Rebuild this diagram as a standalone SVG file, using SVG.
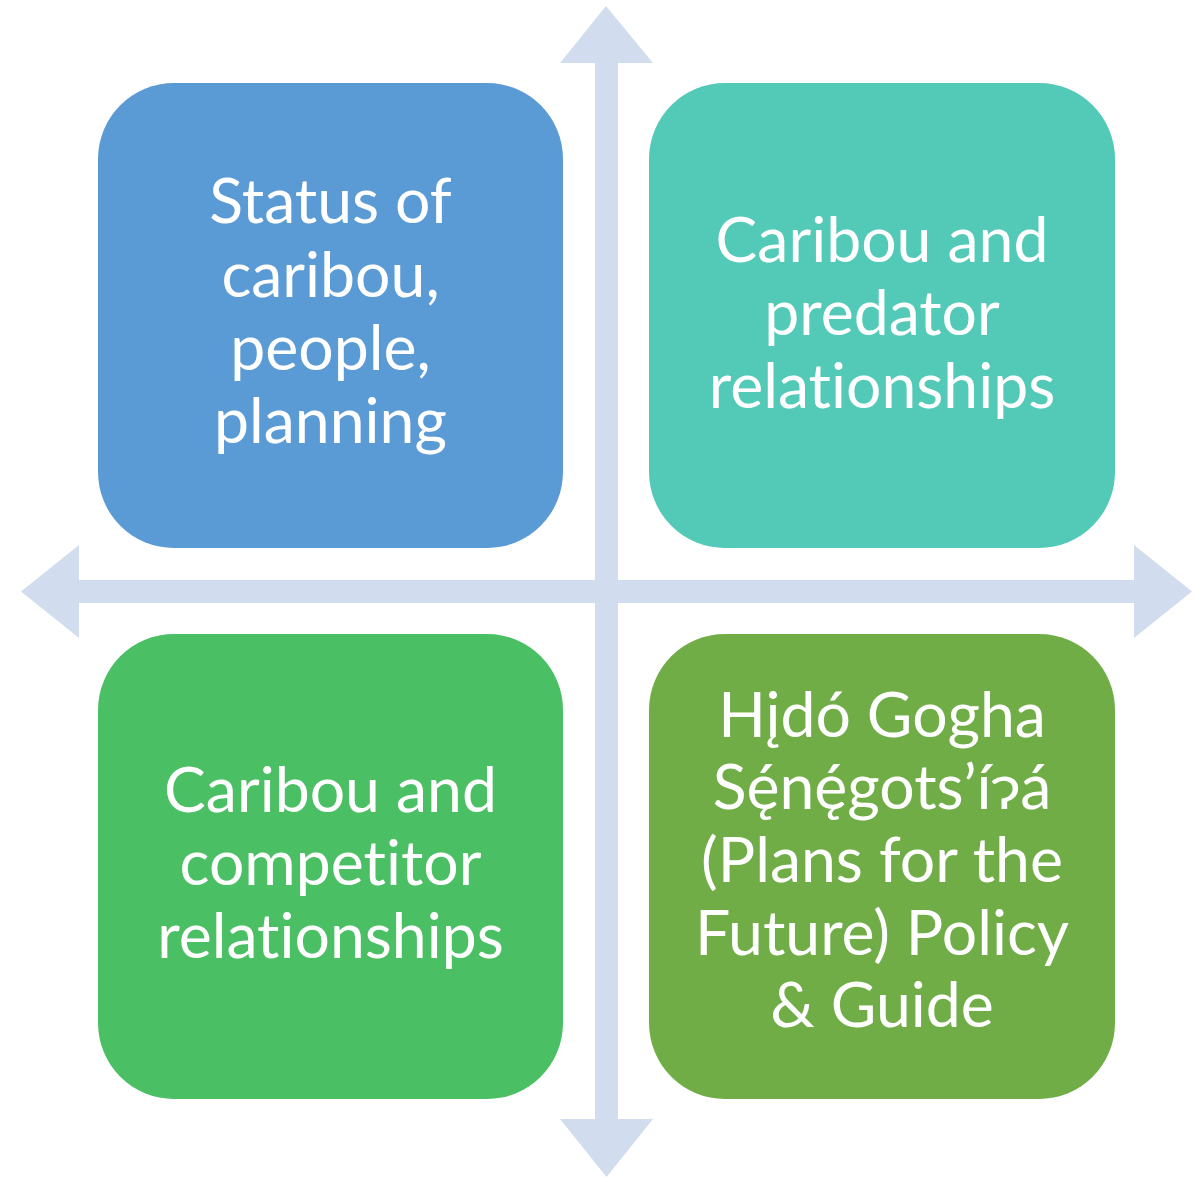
<svg xmlns="http://www.w3.org/2000/svg" width="1194" height="1181" viewBox="0 0 1194 1181">
<style>
.arrow{fill:#D1DDEE}
.lbl{font-family:Lato,"Noto Sans","DejaVu Sans",sans-serif;font-size:62.5px;fill:#FFFFFF;text-anchor:middle;font-variant-ligatures:none}
</style>
<rect width="1194" height="1181" fill="#FFFFFF"/>
<g id="connectors">
<polygon class="arrow" points="606,6 653,63 618,63 618,580 1134,580 1134,545 1192,591.5 1134,638 1134,603 618,603 618,1119 653,1119 606.5,1177 560,1119 595,1119 595,603 79,603 79,638 21,591.5 79,545 79,580 595,580 595,63 560,63"/>
</g>
<g id="node-status">
<rect x="98" y="83" width="465" height="465" rx="76" fill="#5B9BD5"/>
<text class="lbl" x="330.5" y="223">Status of</text>
<text class="lbl" x="330.5" y="297">caribou,</text>
<text class="lbl" x="330.5" y="370">people,</text>
<text class="lbl" x="330.5" y="443">planning</text>
</g>
<g id="node-predator">
<rect x="649" y="83" width="466" height="465" rx="76" fill="#53C9B7"/>
<text class="lbl" x="882" y="262">Caribou and</text>
<text class="lbl" x="882" y="335">predator</text>
<text class="lbl" x="882" y="408">relationships</text>
</g>
<g id="node-competitor">
<rect x="98" y="634" width="465" height="465" rx="76" fill="#4BBF64"/>
<text class="lbl" x="330.5" y="812">Caribou and</text>
<text class="lbl" x="330.5" y="885">competitor</text>
<text class="lbl" x="330.5" y="958">relationships</text>
</g>
<g id="node-plans">
<rect x="649" y="634" width="466" height="465" rx="76" fill="#70AD47"/>
<text class="lbl" x="882" y="737">Hįdó Gogha</text>
<text class="lbl" x="882" y="809">Sę́nę́gots’íɂá</text>
<text class="lbl" x="882" y="882">(Plans for the</text>
<text class="lbl" x="882" y="955">Future) Policy</text>
<text class="lbl" x="882" y="1027">&amp; Guide</text>
</g>
</svg>
